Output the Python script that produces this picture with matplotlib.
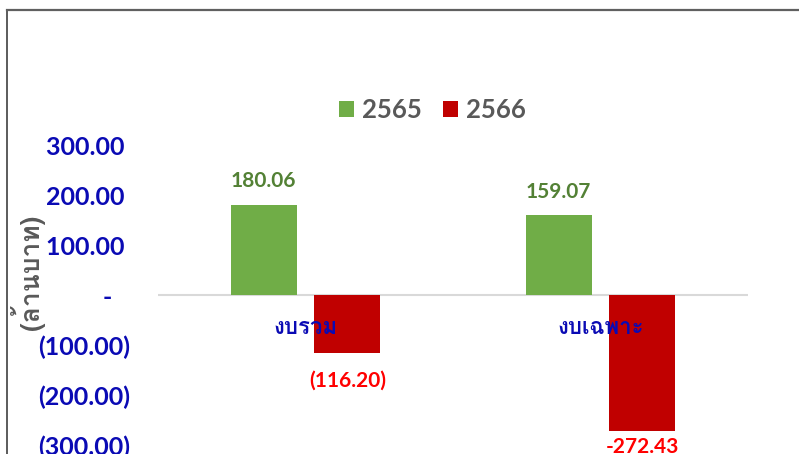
import matplotlib
matplotlib.use("Agg")
import matplotlib.pyplot as plt
import numpy as np
from matplotlib import font_manager, ft2font
from matplotlib.lines import Line2D

# ข้อมูล
categories = ["งบรวม", "งบเฉพาะ"]
series_names = ["2565", "2566"]
values_2565 = [180.06, 159.07]
values_2566 = [-116.20, -272.43]
labels_2565 = ["180.06", "159.07"]
labels_2566 = ["(116.20)", "-272.43"]
yticks = [-300, -200, -100, 0, 100, 200, 300]
ytick_labels = ["(300.00)", "(200.00)", "(100.00)", "-   ", "100.00 ", "200.00 ", "300.00 "]
ylabel = "(ล้านบาท)"

GREEN = "#70AD47"
RED = "#C00000"
BLUE = "#0A0AB4"
GREY = "#595959"


def find_thai_font():
    """หาฟอนต์ที่มีอักษรไทย"""
    for f in font_manager.fontManager.ttflist:
        try:
            if ord("ก") in ft2font.FT2Font(f.fname).get_charmap():
                return f.name
        except Exception:
            pass
    return "DejaVu Sans"


THAI = find_thai_font()
plt.rcParams["font.family"] = ["Lato", THAI, "DejaVu Sans"]

fig = plt.figure(figsize=(7.99, 4.54), dpi=100)
ax = fig.add_axes([0.1977, 0.0198, 0.7384, 0.6608])

x = np.arange(len(categories))
w = 0.224
off = 0.142
b1 = ax.bar(x - off, values_2565, w, color=GREEN, label=series_names[0])
b2 = ax.bar(x + off, values_2566, w, color=RED, label=series_names[1])

for rect, txt in zip(b1, labels_2565):
    ax.annotate(txt, (rect.get_x() + rect.get_width() / 2, rect.get_height()),
                xytext=(0, 17), textcoords="offset points", ha="center", va="center",
                color="#538135", fontsize=15, fontweight="bold")
# ป้ายค่าติดลบ: ป้ายที่สองถูกดันเข้าในพื้นที่กราฟ
for rect, txt, dy in zip(b2, labels_2566, [-20, -11]):
    ax.annotate(txt, (rect.get_x() + rect.get_width() / 2, rect.get_height()),
                xytext=(0, dy), textcoords="offset points", ha="center", va="center",
                color="#FF0000", fontsize=15, fontweight="bold")

ax.set_xlim(-0.5, 1.5)
ax.set_ylim(-300, 300)
ax.axhline(0, color="#D9D9D9", lw=1.5, zorder=0.5)

ax.set_yticks(yticks)
ax.set_yticklabels(ytick_labels, fontsize=18, fontweight="bold", color=BLUE)
ax.tick_params(axis="y", length=0, pad=20)

ax.set_xticks(x)
ax.set_xticklabels(categories, family=[THAI, "DejaVu Sans"], fontsize=16,
                   fontweight="bold", color=BLUE)
ax.tick_params(axis="x", length=0)
for lbl, xv in zip(ax.get_xticklabels(), x):
    lbl.set_transform(ax.get_xaxis_transform())
    lbl.set_va("center")
    lbl.set_position((xv, 0.39))

for s in ax.spines.values():
    s.set_visible(False)

fig.text(0.034, 0.399, ylabel, rotation=90, ha="center", va="center",
         family=[THAI, "DejaVu Sans"], fontsize=19, fontweight="bold", color=GREY)

leg = fig.legend(loc="center", bbox_to_anchor=(0.541, 0.758), ncol=2, frameon=False,
                 handlelength=0.6, handleheight=0.6, handletextpad=0.3, columnspacing=0.8,
                 prop={"family": "Lato", "size": 18.5, "weight": "bold"})
for t in leg.get_texts():
    t.set_color(GREY)

# กรอบรูป
fig.add_artist(Line2D([0.0088, 0.0088], [0, 0.978], color="#404040", lw=1.2))
fig.add_artist(Line2D([0.0088, 1], [0.978, 0.978], color="#606060", lw=1.6))

fig.savefig("out.png", dpi=100)
